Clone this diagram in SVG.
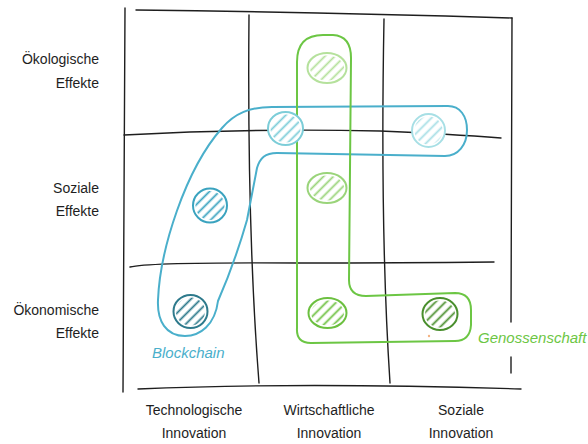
<svg xmlns="http://www.w3.org/2000/svg" width="588" height="444" viewBox="0 0 588 444">
<style>
.grid{fill:none;stroke:#1e1e1e;stroke-width:1.4;stroke-linecap:round}
.hull{fill:none;stroke-width:2;stroke-linejoin:round}
.lbl{font-family:"Liberation Sans",Arial,sans-serif;font-size:14px;fill:#1e1e1e}
.grp{font-family:"Liberation Sans",Arial,sans-serif;font-size:15px;font-style:italic}
.dot{stroke-width:2}
</style>
<defs>
<pattern id="h1" patternUnits="userSpaceOnUse" width="7" height="7" patternTransform="rotate(45)"><line x1="3.5" y1="0" x2="3.5" y2="7" stroke="#7ccdd8" stroke-width="1.8"/></pattern>
<pattern id="h2" patternUnits="userSpaceOnUse" width="7" height="7" patternTransform="rotate(45)"><line x1="3.5" y1="0" x2="3.5" y2="7" stroke="#a7dfe5" stroke-width="1.8"/></pattern>
<pattern id="h3" patternUnits="userSpaceOnUse" width="7" height="7" patternTransform="rotate(45)"><line x1="3.5" y1="0" x2="3.5" y2="7" stroke="#3aa3bf" stroke-width="1.8"/></pattern>
<pattern id="h4" patternUnits="userSpaceOnUse" width="7" height="7" patternTransform="rotate(45)"><line x1="3.5" y1="0" x2="3.5" y2="7" stroke="#2e7a8c" stroke-width="1.8"/></pattern>
<pattern id="h5" patternUnits="userSpaceOnUse" width="7" height="7" patternTransform="rotate(45)"><line x1="3.5" y1="0" x2="3.5" y2="7" stroke="#b5e19c" stroke-width="1.8"/></pattern>
<pattern id="h6" patternUnits="userSpaceOnUse" width="7" height="7" patternTransform="rotate(45)"><line x1="3.5" y1="0" x2="3.5" y2="7" stroke="#9ad47a" stroke-width="1.8"/></pattern>
<pattern id="h7" patternUnits="userSpaceOnUse" width="7" height="7" patternTransform="rotate(45)"><line x1="3.5" y1="0" x2="3.5" y2="7" stroke="#6cc040" stroke-width="1.8"/></pattern>
<pattern id="h8" patternUnits="userSpaceOnUse" width="7" height="7" patternTransform="rotate(45)"><line x1="3.5" y1="0" x2="3.5" y2="7" stroke="#4a8f2e" stroke-width="1.8"/></pattern>
</defs>

<g id="grid">
<path class="grid" d="M136,10 Q320,12 512,18"/>
<path class="grid" d="M125,8 Q124,200 123,392"/>
<path class="grid" d="M512,18 Q511,170 511,322"/>
<path class="grid" d="M511,357 L511,373"/>
<path class="grid" d="M138,389 Q300,382 521,389"/>
<path class="grid" d="M249,15 Q247,230 259,383"/>
<path class="grid" d="M384,19 Q380,230 390,383"/>
<path class="grid" d="M124,135 Q250,128 380,131 Q450,134 501,138"/>
<path class="grid" d="M130,267 Q150,262 300,263 Q400,263 494,262"/>
</g>

<g id="labels">
<text class="lbl" x="99" y="64" text-anchor="end">Ökologische</text>
<text class="lbl" x="99" y="88" text-anchor="end">Effekte</text>
<text class="lbl" x="99" y="193" text-anchor="end">Soziale</text>
<text class="lbl" x="99" y="216" text-anchor="end">Effekte</text>
<text class="lbl" x="99" y="315" text-anchor="end">Ökonomische</text>
<text class="lbl" x="99" y="338" text-anchor="end">Effekte</text>
<text class="lbl" x="194" y="415" text-anchor="middle">Technologische</text>
<text class="lbl" x="194" y="438" text-anchor="middle">Innovation</text>
<text class="lbl" x="329" y="415" text-anchor="middle">Wirtschaftliche</text>
<text class="lbl" x="329" y="438" text-anchor="middle">Innovation</text>
<text class="lbl" x="461" y="415" text-anchor="middle">Soziale</text>
<text class="lbl" x="461" y="438" text-anchor="middle">Innovation</text>
</g>

<g id="connectors">
<path id="blockchain-hull" class="hull" stroke="#4aafcb" d="M218,301 C215,325 200,336 185,336 C166,336 157,321 158,300 C160,250 185,170 222,128 C235,113 250,107 272,107 L448,106 C460,106 467,116 467,130 C467,145 458,156 445,156 L277,153 C265,153 260,158 257,168 L247,220 Q235,262 218,301 Z"/>
<path id="genossenschaft-hull" class="hull" stroke="#6cc644" d="M297,328 L297,62 Q297,35 323,35 L333,35 Q351,36 351,58 L349,280 Q349,296 366,296 L455,293 Q471,293 471,310 L471,325 Q470,341 455,341 L311,343 Q296,343 297,328 Z"/>
</g>

<g id="node-blockchain-label"><text class="grp" x="152" y="358" fill="#4aafcb">Blockchain</text></g>
<g id="node-genossenschaft-label"><text class="grp" x="478" y="343" fill="#6cc644">Genossenschaft</text></g>

<g id="dot-b1"><ellipse cx="285.5" cy="128.5" rx="17.5" ry="16.5" fill="#fff"/><ellipse cx="285.5" cy="128.5" rx="15" ry="14" fill="url(#h1)"/><ellipse class="dot" cx="285.5" cy="128.5" rx="17.5" ry="16.5" fill="none" stroke="#7ccdd8"/></g>
<g id="dot-b2"><ellipse cx="428.5" cy="130.5" rx="16.5" ry="16.5" fill="#fff"/><ellipse cx="428.5" cy="130.5" rx="14" ry="14" fill="url(#h2)"/><ellipse class="dot" cx="428.5" cy="130.5" rx="16.5" ry="16.5" fill="none" stroke="#a7dfe5"/></g>
<g id="dot-b3"><ellipse cx="210" cy="205.5" rx="17" ry="17" fill="#fff"/><ellipse cx="210" cy="205.5" rx="14.5" ry="14.5" fill="url(#h3)"/><ellipse class="dot" cx="210" cy="205.5" rx="17" ry="17" fill="none" stroke="#3aa3bf"/></g>
<g id="dot-b4"><ellipse cx="190.5" cy="311.5" rx="17" ry="16.5" fill="#fff"/><ellipse cx="190.5" cy="311.5" rx="14.5" ry="14" fill="url(#h4)"/><ellipse class="dot" cx="190.5" cy="311.5" rx="17" ry="16.5" fill="none" stroke="#2e7a8c"/></g>
<g id="dot-g1"><ellipse cx="327" cy="68" rx="19.5" ry="15" fill="#fff"/><ellipse cx="327" cy="68" rx="17" ry="12.5" fill="url(#h5)"/><ellipse class="dot" cx="327" cy="68" rx="19.5" ry="15" fill="none" stroke="#b5e19c"/></g>
<g id="dot-g2"><ellipse cx="327" cy="188" rx="19.5" ry="15" fill="#fff"/><ellipse cx="327" cy="188" rx="17" ry="12.5" fill="url(#h6)"/><ellipse class="dot" cx="327" cy="188" rx="19.5" ry="15" fill="none" stroke="#9ad47a"/></g>
<g id="dot-g3"><ellipse cx="327.5" cy="313" rx="19" ry="15" fill="#fff"/><ellipse cx="327.5" cy="313" rx="16.5" ry="12.5" fill="url(#h7)"/><ellipse class="dot" cx="327.5" cy="313" rx="19" ry="15" fill="none" stroke="#6cc040"/></g>
<g id="dot-g4"><ellipse cx="440" cy="314" rx="17.5" ry="16" fill="#fff"/><ellipse cx="440" cy="314" rx="15" ry="13.5" fill="url(#h8)"/><ellipse class="dot" cx="440" cy="314" rx="17.5" ry="16" fill="none" stroke="#4a8f2e"/></g>
<circle cx="429" cy="336" r="1.2" fill="#f4b383"/>
</svg>
